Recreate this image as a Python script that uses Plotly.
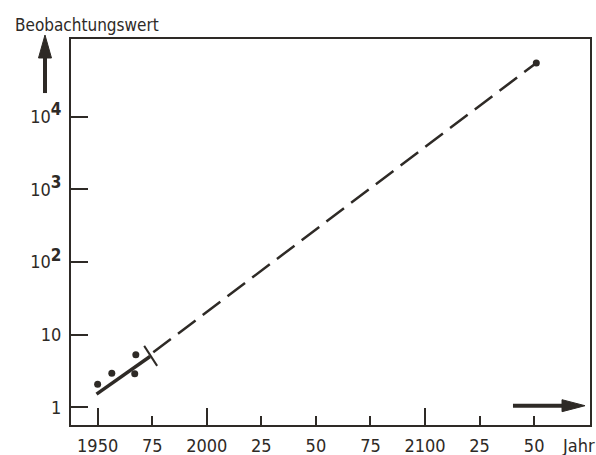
import plotly.graph_objects as go

# --- data ---
obs_years = [1950, 1956.5, 1967.5, 1967]
obs_values = [2.07, 2.95, 5.3, 2.9]

solid_years = [1949.5, 1974]
solid_values = [1.52, 5.0]

dashed_years = [1975.5, 2151]
dashed_values = [5.7, 55000]

end_year = [2151]
end_value = [55000]

mark_year = [1974.3]
mark_value = [5.1]

x_tickvals = [1950, 1975, 2000, 2025, 2050, 2075, 2100, 2125, 2150]
x_ticktext = ["1950", "75", "2000", "25", "50", "75", "2100", "25", "50"]
x_long_ticks = [1950, 2000, 2100]

y_tickvals = [1, 10, 100, 1000, 10000]
y_exponents = ["", "", "2", "3", "4"]

ink = "#2e2a26"
font_family = "Liberation Sans Narrow, DejaVu Sans Condensed, Arial Narrow, sans-serif"


def y_label(v, e):
    if e == "":
        return str(v)
    return "10<sup><span style='font-size:17px'><b>" + e + "</b></span></sup>"


y_ticktext = [y_label(v, e) for v, e in zip(y_tickvals, y_exponents)]

fig = go.Figure()
fig.add_trace(go.Scatter(x=solid_years, y=solid_values, mode="lines",
                         line=dict(color=ink, width=3.5), showlegend=False))
fig.add_trace(go.Scatter(x=dashed_years, y=dashed_values, mode="lines",
                         line=dict(color=ink, width=2.5, dash="22px,9px"), showlegend=False))
fig.add_trace(go.Scatter(x=obs_years, y=obs_values, mode="markers",
                         marker=dict(color=ink, size=7), showlegend=False))
fig.add_trace(go.Scatter(x=end_year, y=end_value, mode="markers",
                         marker=dict(color=ink, size=7), showlegend=False))
fig.add_trace(go.Scatter(x=mark_year, y=mark_value, mode="markers",
                         marker=dict(symbol="line-ns", size=17, angle=-33,
                                     line=dict(color=ink, width=2)), showlegend=False))

# decorative axis arrows (paper coordinates)
shapes = [
    # up arrow: shaft + head
    dict(type="line", xref="paper", yref="paper", x0=-0.0501, x1=-0.0501,
         y0=0.860, y1=0.962, line=dict(color=ink, width=4)),
    dict(type="path", xref="paper", yref="paper",
         path="M -0.0501 1.0104 L -0.0626 0.9508 L -0.0376 0.9508 Z",
         fillcolor=ink, line=dict(color=ink, width=1)),
    # right arrow: shaft + head
    dict(type="line", xref="paper", yref="paper", x0=0.8516, x1=0.952,
         y0=0.05, y1=0.05, line=dict(color=ink, width=4)),
    dict(type="path", xref="paper", yref="paper",
         path="M 0.9904 0.05 L 0.9461 0.0655 L 0.9461 0.0345 Z",
         fillcolor=ink, line=dict(color=ink, width=1)),
]

fig.update_layout(
    width=596, height=455,
    margin=dict(l=71, r=6, t=39, b=30, autoexpand=False),
    paper_bgcolor="white", plot_bgcolor="white",
    font=dict(family=font_family, size=18, color=ink),
    xaxis=dict(range=[1937.8, 2175.6], showgrid=False, zeroline=False,
               showline=True, linecolor=ink, linewidth=2, mirror=True,
               tickmode="array", tickvals=x_tickvals, ticktext=x_ticktext,
               ticks="inside", ticklen=9, tickwidth=2, tickcolor=ink,
               ticklabelstandoff=3, automargin=False,
               minor=dict(tickmode="array", tickvals=x_long_ticks, ticks="inside",
                          ticklen=17, tickwidth=2, tickcolor=ink, showgrid=False)),
    yaxis=dict(type="log", range=[-0.244, 5.07], showgrid=False, zeroline=False,
               showline=True, linecolor=ink, linewidth=2, mirror=True,
               tickmode="array", tickvals=y_tickvals, ticktext=y_ticktext,
               ticks="inside", ticklen=17, tickwidth=2, tickcolor=ink,
               ticklabelstandoff=4, automargin=False),
    shapes=shapes,
    annotations=[
        dict(text="Beobachtungswert", xref="paper", yref="paper", x=-0.1123, y=1.035,
             xanchor="left", yanchor="middle", showarrow=False,
             font=dict(size=17, color=ink, family=font_family)),
        dict(text="Jahr", xref="paper", yref="paper", x=0.942, y=-0.052,
             xanchor="left", yanchor="middle", showarrow=False,
             font=dict(size=18, color=ink, family=font_family)),
    ],
)

fig.write_html("out.html", config={"displayModeBar": False},
               post_script="document.body.style.margin='0';")
